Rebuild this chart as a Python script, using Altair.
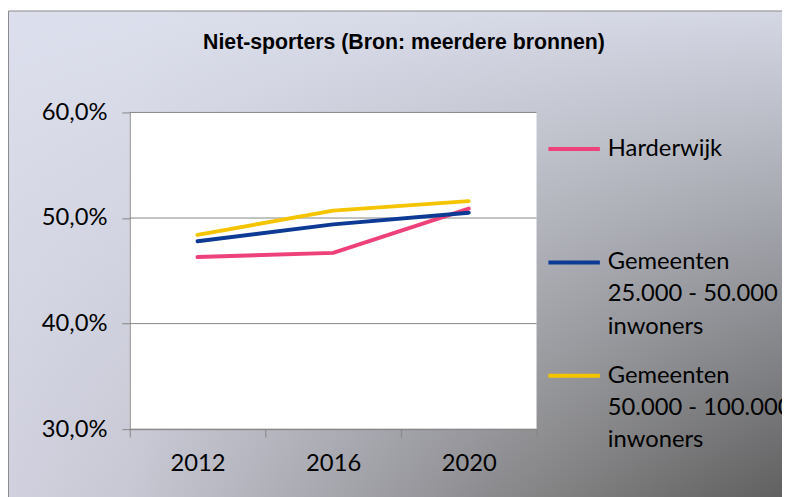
import altair as alt
import pandas as pd

# ---- data ----
years = ["2012", "2016", "2020"]
series = [
    "Harderwijk",
    "Gemeenten\n25.000 - 50.000\ninwoners",
    "Gemeenten\n50.000 - 100.000\ninwoners",
]
harderwijk = [0.463, 0.467, 0.509]
gem_25_50 = [0.478, 0.494, 0.505]
gem_50_100 = [0.484, 0.507, 0.516]
colors = ["#EF4179", "#0D3A94", "#F5C400"]
y_ticks = [0.3, 0.4, 0.5, 0.6]
title_text = "Niet-sporters (Bron: meerdere bronnen)"

rows = []
for name, vals in zip(series, [harderwijk, gem_25_50, gem_50_100]):
    for yr, v in zip(years, vals):
        rows.append({"year": yr, "series": name, "value": v})
df = pd.DataFrame(rows)

# ---- layout ----
W, H = 411, 320
PAD_L, PAD_T, PAD_R, PAD_B = 123, 103, 248, 66
X0, X1 = -PAD_L + 0.5, W + PAD_R + 8
Y0, Y1 = -PAD_T + 0.5, H + PAD_B + 8

GRID = "#868686"
FONT = "Lato"
FS = 24

base_grad = {
    "gradient": "linear", "x1": 0, "y1": 0, "x2": 1, "y2": 0,
    "stops": [
        {"offset": 0, "color": "#d0d0de"},
        {"offset": 0.15, "color": "#c8c8d4"},
        {"offset": 0.6, "color": "#8c8c90"},
        {"offset": 0.68, "color": "#838384"},
        {"offset": 0.885, "color": "#6a6a6a"},
        {"offset": 1, "color": "#5e5e5e"},
    ],
}
overlay_grad = {
    "gradient": "linear", "x1": 0, "y1": 0, "x2": 0, "y2": 1,
    "stops": [
        {"offset": 0, "color": "rgba(221,224,238,0.93)"},
        {"offset": 1, "color": "rgba(221,224,238,0)"},
    ],
}

one = alt.Data(values=[{"k": 0}])

bg = alt.Chart(one).mark_rect(fill=base_grad).encode(
    x=alt.value(X0), x2=alt.value(X1), y=alt.value(Y0), y2=alt.value(Y1)
)
bg2 = alt.Chart(one).mark_rect(fill=overlay_grad, stroke="#8a8a8a", strokeWidth=1).encode(
    x=alt.value(X0), x2=alt.value(X1), y=alt.value(Y0), y2=alt.value(Y1)
)
plot_bg = alt.Chart(one).mark_rect(fill="white").encode(
    x=alt.value(0), x2=alt.value(W), y=alt.value(0), y2=alt.value(H)
)

y_scale = alt.Scale(domain=[0.3, 0.6], zero=False, nice=False)
y_axis = alt.Axis(
    title=None, values=y_ticks, grid=False,
    labelExpr="replace(format(datum.value, '.1%'), '.', ',')",
    labelFont=FONT, labelFontSize=FS, labelColor="black",
    domainColor=GRID, tickColor=GRID, tickSize=8, labelPadding=15, zindex=1,
)
x_axis = alt.Axis(
    title=None, tickBand="extent", labelAngle=0, grid=False,
    labelFont=FONT, labelFontSize=FS, labelColor="black",
    domainColor=GRID, tickColor=GRID, tickSize=8, labelPadding=15, zindex=1,
)

grid = alt.Chart(pd.DataFrame({"v": y_ticks})).mark_rule(color=GRID, strokeWidth=1).encode(
    y=alt.Y("v:Q", scale=y_scale, axis=y_axis)
)

lines = alt.Chart(df).mark_line(strokeWidth=4, strokeCap="round", strokeJoin="round").encode(
    x=alt.X("year:O", bandPosition=0.5,
            scale=alt.Scale(type="band", paddingInner=0, paddingOuter=0, domain=years),
            axis=x_axis),
    y=alt.Y("value:Q", scale=y_scale, axis=y_axis),
    color=alt.Color(
        "series:N",
        scale=alt.Scale(domain=series, range=colors),
        legend=alt.Legend(
            title=None, orient="none", legendX=421, legendY=9,
            symbolType="stroke", symbolSize=2704, symbolStrokeWidth=4,
            labelFont=FONT, labelFontSize=FS, labelColor="black",
            labelOffset=6, labelLimit=400, rowPadding=9.5, padding=0,
            labelExpr="split(datum.label + (indexof(datum.label, '\\n') < 0 ? '\\n \\n ' : ''), '\\n')",
        ),
    ),
    order=alt.Order("year:O"),
)

title = alt.Chart(one).mark_text(
    text=title_text, font="Liberation Sans", fontWeight="bold", fontSize=21.5,
    align="center", baseline="alphabetic", color="black",
).encode(x=alt.value(277), y=alt.value(-64))

chart = alt.layer(bg, bg2, plot_bg, grid, lines, title).properties(
    width=W, height=H,
    padding={"left": PAD_L, "top": PAD_T, "right": PAD_R, "bottom": PAD_B},
    autosize=alt.AutoSizeParams(type="none"),
).configure(
    style={"guide-label": {"lineHeight": 32.5}},
).configure_view(stroke="transparent")

chart.save("out.html", embed_options={"renderer": "svg", "actions": False})
